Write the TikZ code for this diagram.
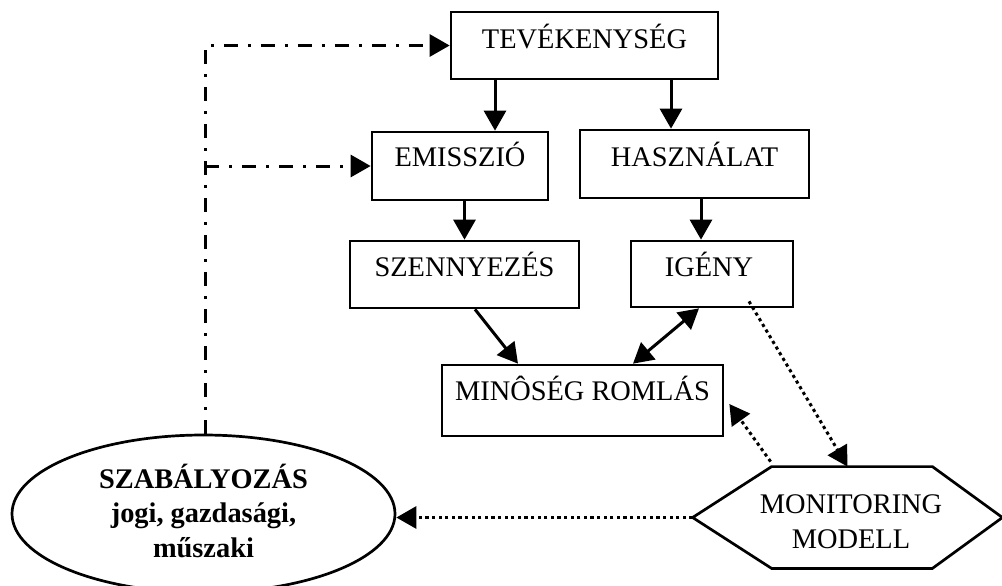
\documentclass[tikz,border=0pt]{standalone}
\usepackage{fontspec}
\setmainfont{Liberation Serif}
\usetikzlibrary{arrows.meta,shapes.geometric}
\begin{document}
\begin{tikzpicture}[x=0.5pt,y=-0.5pt,
  font=\fontsize{14.2}{17.2}\selectfont,
  box/.style={draw,line width=1.35pt,rectangle,inner sep=0pt},
  txt/.style={inner sep=0pt,anchor=base,align=center},
  tip/.style={-{Triangle[length=10pt,width=11pt]}},
  arr/.style={line width=1.5pt,tip},
  darr/.style={line width=1.5pt,{Triangle[length=10pt,width=11pt]}-{Triangle[length=10pt,width=11pt]}},
  dotline/.style={line width=1.5pt,dash pattern=on 1.6pt off 1.7pt,tip},
  dashdotline/.style={line width=1.5pt,dash pattern=on 7pt off 5pt on 1.5pt off 5pt,tip}]
\useasboundingbox (0,0) rectangle (1002,585);
% boxes
\node[box,minimum width=133.5pt,minimum height=33.5pt] (tev) at (584.5,45.5) {};
\node[txt] (tevT) at (584.5,48) {TEVÉKENYSÉG};
\node[box,minimum width=88pt,minimum height=34pt] (emi) at (460,166) {};
\node[txt] (emiT) at (460,166) {EMISSZIÓ};
\node[box,minimum width=114.5pt,minimum height=34pt] (has) at (694.5,164) {};
\node[txt] (hasT) at (694.5,166) {HASZNÁLAT};
\node[box,minimum width=114.5pt,minimum height=33.5pt] (sze) at (464.5,274.5) {};
\node[txt] (szeT) at (464.5,276) {SZENNYEZÉS};
\node[box,minimum width=81pt,minimum height=33pt] (ige) at (712,274) {};
\node[txt] (igeT) at (709,276) {IGÉNY};
\node[box,minimum width=140.5pt,minimum height=35.5pt] (min) at (582.5,400.5) {};
\node[txt] (minT) at (582.5,400) {MINÔSÉG ROMLÁS};
% ellipse
\node[draw,ellipse,line width=1.35pt,minimum width=191.5pt,minimum height=78.8pt,inner sep=0pt] (ell) at (203.5,513.8) {};
\node[txt,font=\fontsize{14.2}{17.2}\selectfont\bfseries] (ellT) at (203.5,557) {SZABÁLYOZÁS\\jogi, gazdasági,\\műszaki};
% hexagon
\node[inner sep=0pt,minimum width=154.5pt,minimum height=50.5pt] (mon) at (847.5,517.5) {};
\draw[line width=1.35pt,line join=miter] (mon.west) -- ([xshift=39.5pt]mon.north west) -- ([xshift=-35pt]mon.north east)
  -- (mon.east) -- ([xshift=-35pt]mon.south east) -- ([xshift=39.5pt]mon.south west) -- cycle;
\node[txt] (monT) at (851,548) {MONITORING\\MODELL};
% solid arrows
\draw[arr] ([xshift=17.5pt]emi.north |- tev.south) -- ([xshift=17.5pt]emi.north);
\draw[arr] ([xshift=-11.75pt]has.north |- tev.south) -- ([xshift=-11.75pt]has.north);
\draw[arr] (emi.south -| sze.north) -- (sze.north);
\draw[arr] ([xshift=-5.5pt]ige.north |- has.south) -- ([xshift=-5.5pt]ige.north);
\draw[arr] ([xshift=5.25pt]sze.south) -- ([xshift=-32.25pt]min.north);
\draw[darr] ([xshift=-6.5pt]ige.south) -- ([xshift=25.25pt]min.north);
% dotted arrows
\draw[dotline] ([xshift=18.5pt,yshift=3.5pt]ige.south) -- (mon.north);
\draw[dotline] ([xshift=39pt,yshift=2.5pt]mon.north west) -- ([xshift=2.5pt,yshift=-1.75pt]min.east);
\draw[dotline] (mon.west) -- (mon.west -| ell.east);
% dash-dot arrows
\draw[dashdotline] ([xshift=0.75pt]ell.north) -- ([xshift=0.75pt]ell.north |- tev.west) -- (tev.west);
\draw[dashdotline] ([xshift=0.75pt]ell.north |- emi.west) -- (emi.west);
\end{tikzpicture}
\end{document}
